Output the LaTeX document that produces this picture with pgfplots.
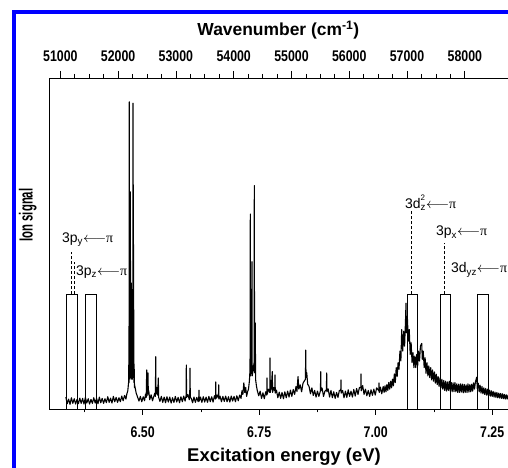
\documentclass[border=0pt]{standalone}
\usepackage{fontspec}
\setmainfont{Liberation Sans}
\newfontfamily\narrowfont{Liberation Sans}[FakeStretch=0.8]
\newfontfamily\ionfont{Liberation Sans}[FakeStretch=0.6]
\newfontfamily\grk{Liberation Serif}
\usepackage{pgfplots}
\usepackage{pgfplotstable}
\pgfplotsset{compat=1.18}
\pgfplotstableread{
E I
6.335 3.6
6.338 1.6
6.341 3.0
6.344 1.4
6.347 3.4
6.350 1.7
6.353 3.1
6.356 1.5
6.359 2.9
6.362 1.6
6.365 3.3
6.368 1.7
6.371 3.2
6.374 1.5
6.377 3.5
6.380 1.8
6.383 3.1
6.386 1.5
6.389 2.9
6.392 1.7
6.395 3.4
6.398 1.8
6.401 3.2
6.404 1.6
6.407 3.6
6.410 1.9
6.413 3.2
6.416 1.7
6.419 3.1
6.422 1.9
6.425 3.7
6.428 2.0
6.431 3.3
6.434 1.8
6.437 3.8
6.440 2.2
6.443 3.5
6.446 2.0
6.449 3.4
6.452 2.2
6.455 3.9
6.458 2.5
6.461 4.1
6.464 3.0
6.466 4.6
6.468 5.5
6.470 8.5
6.4705 25
6.4708 8
6.4712 92.8
6.4716 9
6.4722 30
6.4728 9.5
6.4735 65.6
6.4740 10
6.4746 22
6.4752 9
6.4758 38
6.4763 10
6.4770 28
6.4776 9
6.4783 18
6.4787 9.5
6.4792 92.4
6.4796 11
6.4800 67.7
6.4804 10
6.4809 30
6.4813 8
6.4818 12
6.4824 6.5
6.483 7
6.486 4.8
6.489 3.6
6.492 2.4
6.495 3.8
6.498 2.2
6.501 3.7
6.504 2.5
6.506 4.5
6.5075 3.5
6.5086 11.8
6.5092 4
6.510 6
6.5114 10.9
6.5120 4.5
6.513 5.5
6.515 2.8
6.518 4.3
6.521 2.5
6.524 3.9
6.526 4.8
6.5272 3.8
6.5279 15.8
6.5285 4.5
6.530 6.5
6.532 4.2
6.5335 9.4
6.5342 3.5
6.537 2.3
6.540 3.8
6.543 2.0
6.546 3.6
6.549 1.9
6.552 3.7
6.555 2.1
6.558 3.6
6.561 1.8
6.564 3.4
6.567 2.0
6.570 3.8
6.573 2.1
6.576 3.5
6.579 1.9
6.582 3.7
6.585 2.2
6.588 3.9
6.591 2.4
6.5930 4
6.5936 13.3
6.5942 3.5
6.597 4.4
6.600 2.8
6.6010 5
6.6015 12.3
6.6021 3.4
6.604 3.3
6.607 1.9
6.610 3.6
6.613 2.0
6.616 3.5
6.619 2.2
6.6203 3.5
6.6208 5.7
6.6214 2.4
6.624 3.6
6.627 2.0
6.630 3.7
6.633 2.1
6.636 3.6
6.639 2.0
6.642 3.8
6.645 2.2
6.648 3.7
6.651 2.1
6.654 4.0
6.6562 3.0
6.6567 8.2
6.6573 3.2
6.660 4.2
6.6625 3.3
6.6631 7.3
6.6637 3.0
6.666 3.9
6.669 2.2
6.672 3.8
6.675 2.3
6.678 3.9
6.681 2.2
6.684 3.7
6.687 2.1
6.690 3.9
6.693 2.4
6.696 3.8
6.699 2.2
6.702 4.0
6.705 2.5
6.708 4.2
6.711 3.2
6.713 5.5
6.715 4.4
6.717 7.9
6.719 5.0
6.721 6.5
6.723 3.8
6.725 5.2
6.727 6.0
6.729 8.5
6.7303 12
6.7309 58.9
6.7315 10
6.733 14
6.7345 44.5
6.7350 10
6.737 12
6.7390 14
6.7395 67.5
6.7400 11
6.7410 15
6.7416 26
6.7422 9
6.744 7
6.746 5.5
6.749 4.0
6.752 5.4
6.755 3.2
6.758 4.9
6.761 3.1
6.764 5.2
6.7662 4.2
6.7667 9.4
6.7672 4.5
6.770 6.0
6.7727 5.0
6.7732 15.4
6.7738 5.0
6.776 6.5
6.7781 11.3
6.7787 5
6.781 6.5
6.7834 5.5
6.7839 10.3
6.7845 4.8
6.787 5.7
6.790 3.4
6.793 5.1
6.796 3.2
6.799 5.0
6.802 3.1
6.805 5.2
6.808 3.4
6.811 5.4
6.814 3.6
6.817 5.7
6.820 3.8
6.823 5.9
6.826 4.4
6.829 6.8
6.831 5.3
6.8333 9.8
6.835 6.0
6.838 7.3
6.841 5.2
6.844 7.8
6.847 8.5
6.8492 9
6.8498 17.8
6.8505 9.5
6.852 11
6.854 7.5
6.857 6.8
6.860 4.6
6.863 6.4
6.866 4.1
6.869 5.6
6.872 3.6
6.875 5.4
6.878 3.8
6.8814 5.5
6.8820 11.3
6.8826 5.5
6.885 6.3
6.888 3.8
6.891 5.4
6.8942 5.8
6.8948 10.9
6.8954 5.2
6.898 6.1
6.901 3.6
6.904 5.6
6.907 3.4
6.910 5.2
6.913 3.2
6.916 5.0
6.919 3.5
6.922 5.6
6.9250 5.5
6.9255 8.8
6.9260 4.8
6.929 5.6
6.932 3.4
6.935 5.4
6.938 3.5
6.941 5.8
6.944 3.8
6.947 5.4
6.950 3.6
6.953 5.9
6.956 3.9
6.959 6.2
6.962 4.4
6.965 6.5
6.9680 6.5
6.9685 10.6
6.9690 5.5
6.972 7.1
6.975 4.4
6.978 6.0
6.981 4.0
6.984 5.6
6.987 3.8
6.990 5.8
6.993 4.1
6.996 6.0
6.999 4.2
7.002 6.4
7.0065 5.5
7.0071 7.9
7.0077 5.0
7.010 6.6
7.013 4.6
7.016 6.8
7.018 5.0
7.020 7.0
7.022 5.2
7.024 7.4
7.026 5.6
7.028 8.0
7.030 6.0
7.032 8.4
7.034 6.4
7.036 9.0
7.038 7.0
7.040 10.6
7.042 8.0
7.044 12.5
7.046 9.8
7.048 14.0
7.050 12.0
7.052 17.5
7.054 14.5
7.0558 24
7.058 17.5
7.060 23.5
7.062 19
7.064 27
7.065 32
7.066 23
7.068 27.5
7.070 20.5
7.072 24
7.074 16.5
7.076 20
7.078 14
7.080 17
7.082 12.5
7.084 16
7.086 12.5
7.088 16.5
7.090 13
7.092 17.5
7.094 14.5
7.096 19
7.0987 19.8
7.100 15
7.102 17.5
7.104 12.5
7.106 15.5
7.108 10.8
7.110 14
7.112 10
7.114 13
7.116 9.5
7.118 12.5
7.120 8.8
7.122 11.8
7.124 8.4
7.126 11.2
7.128 7.8
7.130 10.5
7.132 7.4
7.134 9.8
7.136 6.8
7.138 9.4
7.140 6.4
7.142 9.0
7.144 6.0
7.146 8.6
7.148 5.6
7.150 8.4
7.152 5.4
7.154 8.2
7.156 5.6
7.158 8.4
7.160 5.4
7.162 8.0
7.164 5.2
7.166 7.9
7.168 5.3
7.170 8.0
7.172 5.2
7.174 7.6
7.176 5.0
7.178 7.5
7.180 5.0
7.182 7.6
7.184 5.1
7.186 7.5
7.188 4.9
7.190 7.4
7.192 5.0
7.194 7.3
7.196 5.0
7.198 7.6
7.200 5.1
7.202 7.4
7.204 5.2
7.206 7.5
7.208 5.4
7.210 7.9
7.212 6.0
7.214 8.2
7.2167 9.6
7.218 6.2
7.220 7.8
7.222 5.2
7.224 7.2
7.226 4.8
7.228 6.8
7.230 4.6
7.232 6.4
7.234 4.4
7.236 6.2
7.238 4.2
7.240 6.0
7.242 4.0
7.244 5.7
7.246 3.9
7.248 5.5
7.250 3.8
7.252 5.3
7.254 3.6
7.256 5.1
7.258 3.5
7.260 5.0
7.262 3.4
7.264 4.8
7.266 3.3
7.268 4.7
7.270 3.2
7.272 4.6
7.274 3.1
7.276 4.4
7.278 3.0
7.280 4.3
7.282 3.0
7.284 4.2
7.286 2.9
7.288 4.1
7.290 3.0
}\spectrum
\begin{document}
\begin{tikzpicture}
\useasboundingbox (0,0) rectangle (508bp,468bp);
\clip (0,0) rectangle (508bp,468bp);
\fill[white] (0,0) rectangle (508bp,468bp);
\draw[blue, line width=4.5bp] (14bp,-20bp) -- (14bp,456bp) -- (540bp,456bp);
% top axis: wavenumber
\begin{axis}[
  at={(49bp,59bp)}, anchor=south west, scale only axis,
  width=470bp, height=331bp,
  xmin=50804, xmax=58937.3, ymin=0, ymax=1,
  axis x line*=top, axis y line=none,
  x axis line style={-, line width=0.8bp},
  scaled x ticks=false,
  xtick={51000,52000,53000,54000,55000,56000,57000,58000},
  xticklabels={51000,52000,53000,54000,55000,56000,57000,58000},
  minor x tick num=3,
  tick align=outside, major tick length=7bp, minor tick length=4bp,
  every tick/.style={black, line width=0.7bp},
  xticklabel style={font=\narrowfont\bfseries\fontsize{15.5}{16}\selectfont, yshift=6bp},
  xlabel={Wavenumber (cm\textsuperscript{-1})},
  xlabel style={font=\bfseries\fontsize{17.5}{18}\selectfont, at={(axis description cs:0.488,1.145)}, anchor=center},
]
\end{axis}
% main axis: excitation energy
\begin{axis}[
  at={(49bp,59bp)}, anchor=south west, scale only axis,
  width=470bp, height=331bp,
  xmin=6.2989, xmax=7.3075, ymin=0, ymax=100,
  axis line style={line width=0.8bp},
  ytick=\empty,
  xtick={6.5,6.75,7,7.25},
  xticklabels={6.50,6.75,7.00,7.25},
  minor xtick={6.375,6.625,6.875,7.125},
  xtick pos=left,
  tick align=outside, major tick length=6bp, minor tick length=3.5bp,
  every tick/.style={black, line width=0.7bp},
  xticklabel style={font=\narrowfont\bfseries\fontsize{15.5}{16}\selectfont, yshift=-8bp},
  xlabel={Excitation energy (eV)},
  xlabel style={font=\bfseries\fontsize{18.5}{19}\selectfont, at={(axis description cs:0.5,-0.145)}, anchor=center},
  ylabel={Ion signal},
  ylabel style={font=\ionfont\bfseries\fontsize{19}{20}\selectfont, at={(axis description cs:-0.045,0.586)}, anchor=center},
]
\addplot[black, line width=1.1bp, line join=round] table[x=E, y=I] {\spectrum};
% transition boxes
\addplot[black, line width=0.9bp] coordinates {(6.337,0) (6.337,34.7) (6.360,34.7) (6.360,0)};
\addplot[black, line width=0.9bp] coordinates {(6.378,0) (6.378,34.7) (6.400,34.7) (6.400,0)};
\addplot[black, line width=0.9bp] coordinates {(7.068,0) (7.068,34.7) (7.090,34.7) (7.090,0)};
\addplot[black, line width=0.9bp] coordinates {(7.138,0) (7.138,34.7) (7.161,34.7) (7.161,0)};
\addplot[black, line width=0.9bp] coordinates {(7.219,0) (7.219,34.7) (7.242,34.7) (7.242,0)};
% leader lines
\addplot[black, densely dashed, line width=0.5bp] coordinates {(6.3476,34.7) (6.3476,47.5)};
\addplot[black, densely dashed, line width=0.5bp] coordinates {(6.3541,34.7) (6.3541,44.5)};
\addplot[black, densely dashed, line width=0.5bp] coordinates {(7.0773,34.7) (7.0773,60.1)};
\addplot[black, densely dashed, line width=0.5bp] coordinates {(7.1472,34.7) (7.1472,50.2)};
% labels
\node[anchor=west, inner sep=0pt, font=\fontsize{14}{15}\selectfont] at (axis cs:6.3268,51.1) {3p\textsubscript{y}$\longleftarrow${\grk π}};
\node[anchor=west, inner sep=0pt, font=\fontsize{14}{15}\selectfont] at (axis cs:6.3569,41.4) {3p\textsubscript{z}$\longleftarrow${\grk π}};
\node[anchor=west, inner sep=0pt, font=\fontsize{14}{15}\selectfont] at (axis cs:7.0629,62.2) {3d\rlap{\raisebox{1.05ex}{\fontsize{8}{8}\selectfont 2}}\textsubscript{z}$\longleftarrow${\grk π}};
\node[anchor=west, inner sep=0pt, font=\fontsize{14}{15}\selectfont] at (axis cs:7.1294,53.3) {3p\textsubscript{x}$\longleftarrow${\grk π}};
\node[anchor=west, inner sep=0pt, font=\fontsize{14}{15}\selectfont] at (axis cs:7.1616,42.0) {3d\textsubscript{yz}$\longleftarrow${\grk π}};
\end{axis}
\end{tikzpicture}
\end{document}
